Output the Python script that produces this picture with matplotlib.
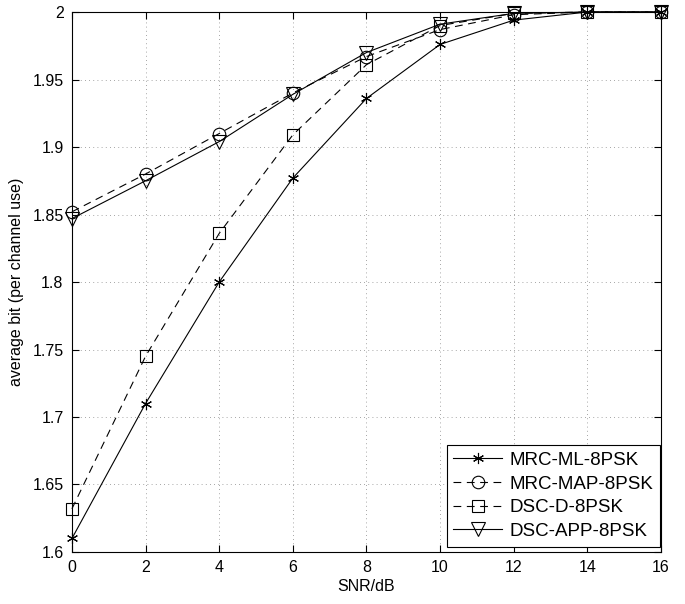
import matplotlib
matplotlib.use("Agg")
import matplotlib.pyplot as plt

snr = [0, 2, 4, 6, 8, 10, 12, 14, 16]
mrc_ml = [1.610, 1.710, 1.800, 1.877, 1.936, 1.976, 1.994, 2.000, 2.000]
mrc_map = [1.852, 1.880, 1.910, 1.940, 1.967, 1.987, 1.998, 2.000, 2.000]
dsc_d = [1.632, 1.745, 1.836, 1.909, 1.961, 1.990, 1.999, 2.000, 2.000]
dsc_app = [1.847, 1.875, 1.904, 1.939, 1.970, 1.991, 1.999, 2.000, 2.000]

plt.rcParams['font.family'] = ['Liberation Sans', 'DejaVu Sans']

fig = plt.figure(figsize=(6.85, 6.04), dpi=100)
ax = fig.add_axes([0.105, 0.0861, 0.860, 0.894])

lw = 0.8
common = dict(color='k', lw=lw, mew=0.8, clip_on=False, zorder=3)
ax.plot(snr, mrc_ml, '-', marker=(6, 2, 0), ms=8, label='MRC-ML-8PSK', **common)
ax.plot(snr, mrc_map, '--', dashes=(7, 5), marker='o', ms=9, mfc='none', label='MRC-MAP-8PSK', **common)
ax.plot(snr, dsc_d, '--', dashes=(7, 5), marker='s', ms=9, mfc='none', label='DSC-D-8PSK', **common)
ax.plot(snr, dsc_app, '-', marker='v', ms=10, mfc='none', label='DSC-APP-8PSK', **common)

ax.set_xlim(0, 16)
ax.set_ylim(1.6, 2.0)
ax.set_xticks(range(0, 17, 2))
ax.set_yticks([1.6, 1.65, 1.7, 1.75, 1.8, 1.85, 1.9, 1.95, 2.0])
ax.set_yticklabels(['1.6', '1.65', '1.7', '1.75', '1.8', '1.85', '1.9', '1.95', '2'])
ax.grid(True, linestyle=(0, (1, 4)), color='#888888', lw=0.6)
ax.tick_params(direction='in', top=True, right=True, labelsize=11.5, length=5, width=0.8, pad=6)
for s in ax.spines.values():
    s.set_linewidth(0.8)
ax.set_xlabel('SNR/dB', fontsize=11.5, labelpad=3)
ax.set_ylabel('average bit (per channel use)', fontsize=11.5, labelpad=6)

leg = ax.legend(loc='lower right', bbox_to_anchor=(0.998, 0.01), fontsize=13.5, fancybox=False,
                edgecolor='k', framealpha=1, borderaxespad=0.0, handlelength=2.6,
                labelspacing=0.35, borderpad=0.35, handletextpad=0.4)
leg.get_frame().set_linewidth(0.8)
leg.set_zorder(5)

fig.savefig('out.png', dpi=100)
